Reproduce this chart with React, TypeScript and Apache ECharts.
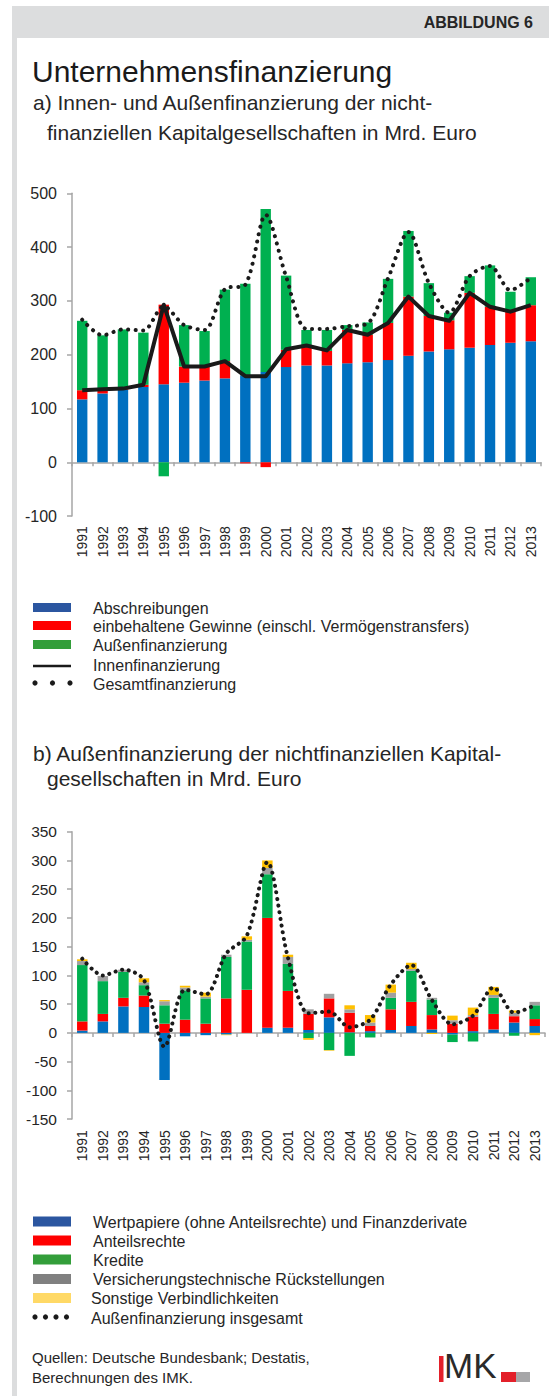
import React, { useEffect, useRef } from "react";
import * as echarts from "echarts";

const years = ["1991","1992","1993","1994","1995","1996","1997","1998","1999","2000","2001","2002","2003","2004","2005","2006","2007","2008","2009","2010","2011","2012","2013"];

// Chart a (Mrd. Euro)
const abschreibungen = [117,128,135,140,145,148,152,156,162,168,177,180,180,184,186,190,198,206,210,213,218,222,225];
const gewinne = [17,8,2,4,148,30,26,32,-2,-9,32,35,27,62,51,69,110,66,54,102,71,58,67];
const aussenA = [129,100,110,97,-26,77,66,133,170,303,138,31,39,9,23,82,122,61,14,31,77,37,52];
const innen = [134,136,137,144,293,178,178,188,160,160,210,217,208,246,237,259,308,272,263,315,289,280,292];
const gesamt = [265,236,247,245,290,255,246,322,330,460,345,248,248,253,258,342,428,333,278,346,365,320,343];

// Chart b (Mrd. Euro)
const wertpapiere = [4,20,46,45,-82,-6,-4,-3,0,9,9,5,27,1,3,5,12,6,-3,3,6,18,12];
const anteilsrechte = [16,13,15,20,16,23,16,60,75,191,64,28,33,34,9,36,42,25,16,25,27,11,12];
const kredite = [98,57,45,18,32,51,44,72,84,76,47,-9,-30,-40,-8,20,54,27,-13,-15,28,-5,24];
const versicherung = [7,9,4,5,7,5,3,4,3,11,12,8,8,6,6,9,3,3,6,3,5,6,6];
const sonstige = [3,0,0,7,2,3,7,-1,6,13,4,-3,-1,7,13,14,11,-2,8,13,14,4,-4];
const aussenGesamt = [129,100,110,92,-24,75,67,138,169,297,131,34,37,10,23,84,118,57,15,30,79,35,48];

const legendA = ["Abschreibungen", "einbehaltene Gewinne (einschl. Vermögenstransfers)", "Außenfinanzierung", "Innenfinanzierung", "Gesamtfinanzierung"];
const legendB = ["Wertpapiere (ohne Anteilsrechte) und Finanzderivate", "Anteilsrechte", "Kredite", "Versicherungstechnische Rückstellungen", "Sonstige Verbindlichkeiten", "Außenfinanzierung insgesamt"];

const FONT = "'Liberation Sans', Arial, Helvetica, sans-serif";
const AXIS = "#A6A6A6";
const TXT = "#262626";
const C_BLUE = "#0070C0", C_RED = "#FF0000", C_GREEN = "#00B050", C_GRAY = "#A0A0A0", C_YELLOW = "#FFC000";
const L_BLUE = "#2B56A0", L_RED = "#FF0000", L_GREEN = "#339E3A", L_GRAY = "#808080", L_YELLOW = "#FFD966";

function txt(text: string, x: number, y: number, fontSize: number, extra: any = {}) {
  return {
    type: "text",
    x, y,
    silent: true,
    style: { text, fontSize, fontFamily: FONT, fill: TXT, align: "left", verticalAlign: "middle", ...extra },
  };
}

export default function App() {
  const ref = useRef<HTMLDivElement>(null);
  useEffect(() => {
    const chart = echarts.init(ref.current!, null, { renderer: "svg", width: 549, height: 1396 });

    const valueAxis = (min: number, max: number, interval: number, gridIndex: number, fs: number) => ({
      type: "value",
      gridIndex,
      min, max, interval,
      axisLine: { show: true, lineStyle: { color: AXIS, width: 1.5 } },
      axisTick: { show: true, length: 5, lineStyle: { color: AXIS, width: 1.5 } },
      splitLine: { show: false },
      axisLabel: { fontSize: fs, fontFamily: FONT, color: TXT, margin: 15 },
    });
    const lineAxis = (gridIndex: number) => ({
      type: "category",
      gridIndex,
      data: years,
      position: "bottom",
      axisLine: { show: true, onZero: true, lineStyle: { color: AXIS, width: 1.5 } },
      axisTick: { show: true, length: 4, interval: 0, lineStyle: { color: AXIS, width: 1.5 } },
      axisLabel: { show: false },
    });
    const labelAxis = (gridIndex: number, margin: number) => ({
      type: "category",
      gridIndex,
      data: years,
      position: "bottom",
      axisLine: { show: false, onZero: false },
      axisTick: { show: false },
      axisLabel: { show: true, rotate: 90, interval: 0, fontSize: 14, fontFamily: FONT, color: TXT, margin },
    });

    const bar = (name: string, data: number[], color: string, stack: string, xi: number, yi: number) => ({
      type: "bar", name, data, stack, xAxisIndex: xi, yAxisIndex: yi,
      barWidth: "51%", itemStyle: { color }, z: 2,
    });

    const legendRows: any[] = [];
    const rowsA = [608, 626, 645, 665, 684];
    const colsA = [L_BLUE, L_RED, L_GREEN];
    legendA.forEach((name, i) => {
      legendRows.push(txt(name, 93, rowsA[i], 16));
      if (i < 3) legendRows.push({ type: "rect", silent: true, shape: { x: 33, y: rowsA[i] - 5, width: 38, height: 9 }, style: { fill: colsA[i] } });
    });
    legendRows.push({ type: "line", silent: true, shape: { x1: 33, y1: rowsA[3] + 1, x2: 71, y2: rowsA[3] + 1 }, style: { stroke: "#1a1a1a", lineWidth: 2.5 } });
    [35, 52.5, 70].forEach((cx) => legendRows.push({ type: "circle", silent: true, shape: { cx, cy: rowsA[4] - 1, r: 2.6 }, style: { fill: "#1a1a1a" } }));

    const rowsB = [1222, 1241, 1260, 1279.5, 1298.5, 1318];
    const colsB = [L_BLUE, L_RED, L_GREEN, L_GRAY, L_YELLOW];
    legendB.forEach((name, i) => {
      legendRows.push(txt(name, i >= 4 ? 91 : 93, rowsB[i], 16));
      if (i < 5) legendRows.push({ type: "rect", silent: true, shape: { x: 33, y: rowsB[i] - 5.5, width: 38, height: 10 }, style: { fill: colsB[i] } });
    });
    [35, 45.5, 56, 66.5].forEach((cx) => legendRows.push({ type: "circle", silent: true, shape: { cx, cy: rowsB[5] - 1, r: 2.6 }, style: { fill: "#1a1a1a" } }));

    const option: any = {
      animation: false,
      backgroundColor: "#ffffff",
      textStyle: { fontFamily: FONT },
      grid: [
        { left: 72, top: 193.3, width: 469, height: 322.8, containLabel: false },
        { left: 72, top: 831.7, width: 473, height: 287.4, containLabel: false },
      ],
      xAxis: [lineAxis(0), labelAxis(0, 10), lineAxis(1), labelAxis(1, 11)],
      yAxis: [valueAxis(-100, 500, 100, 0, 16), valueAxis(-150, 350, 50, 1, 15.5)],
      series: [
        bar(legendA[0], abschreibungen, C_BLUE, "a", 0, 0),
        bar(legendA[1], gewinne, C_RED, "a", 0, 0),
        bar(legendA[2], aussenA, C_GREEN, "a", 0, 0),
        {
          type: "line", name: legendA[3], data: innen, xAxisIndex: 0, yAxisIndex: 0,
          symbol: "none", z: 5, lineStyle: { color: "#1a1a1a", width: 4, join: "round" },
        },
        {
          type: "line", name: legendA[4], data: gesamt, xAxisIndex: 0, yAxisIndex: 0,
          symbol: "none", smooth: 0.3, z: 6,
          lineStyle: { color: "#1a1a1a", width: 4, type: [0.1, 7.4], cap: "round" },
        },
        bar(legendB[0], wertpapiere, C_BLUE, "b", 2, 1),
        bar(legendB[1], anteilsrechte, C_RED, "b", 2, 1),
        bar(legendB[2], kredite, C_GREEN, "b", 2, 1),
        bar(legendB[3], versicherung, C_GRAY, "b", 2, 1),
        bar(legendB[4], sonstige, C_YELLOW, "b", 2, 1),
        {
          type: "line", name: legendB[5], data: aussenGesamt, xAxisIndex: 2, yAxisIndex: 1,
          symbol: "none", smooth: 0.3, z: 6,
          lineStyle: { color: "#1a1a1a", width: 4, type: [0.1, 6.6], cap: "round" },
        },
      ],
      graphic: [
        { type: "rect", silent: true, z: -10, shape: { x: 12, y: 6, width: 537, height: 32 }, style: { fill: "#DCDDDE" } },
        { type: "rect", silent: true, z: -10, shape: { x: 12, y: 38, width: 5, height: 1358 }, style: { fill: "#DCDDDE" } },
        txt("ABBILDUNG 6", 533, 22, 16, { fontWeight: "bold", align: "right", fill: "#262626" }),
        txt("Unternehmensfinanzierung", 32, 71, 30, { fill: "#1a1a1a" }),
        txt("a) Innen- und Außenfinanzierung der nicht-", 33, 102, 21),
        txt("finanziellen Kapitalgesellschaften in Mrd. Euro", 47, 132, 21),
        txt("b) Außenfinanzierung der nichtfinanziellen Kapital-", 33, 753, 21),
        txt("gesellschaften in Mrd. Euro", 47, 778, 21),
        ...legendRows,
        txt("Quellen: Deutsche Bundesbank; Destatis,", 32, 1357, 15),
        txt("Berechnungen des IMK.", 32, 1377, 15),
        { type: "rect", silent: true, shape: { x: 439, y: 1356, width: 4.5, height: 26 }, style: { fill: "#E3202A" } },
        { type: "text", silent: true, x: 444, y: 1383, style: { text: "MK", fontSize: 35, fontFamily: FONT, fontWeight: "normal", fill: "#2a2a2a", align: "left", verticalAlign: "bottom" } },
        { type: "rect", silent: true, shape: { x: 501, y: 1372, width: 15, height: 10 }, style: { fill: "#E3202A" } },
        { type: "rect", silent: true, shape: { x: 516, y: 1372, width: 14, height: 10 }, style: { fill: "#A6A6A8" } },
      ],
    };
    chart.setOption(option);
    return () => chart.dispose();
  }, []);
  return <div ref={ref} style={{ position: "absolute", left: 0, top: 0, width: 549, height: 1396 }} />;
}
